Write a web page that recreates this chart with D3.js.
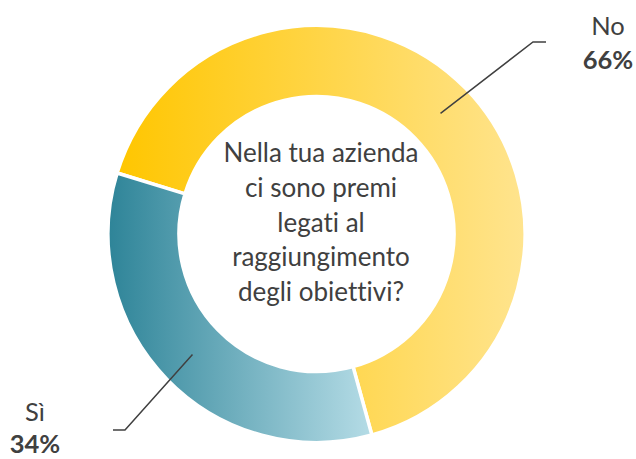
<!DOCTYPE html>
<html>
<head>
<meta charset="utf-8">
<script src="https://cdn.jsdelivr.net/npm/d3@7/dist/d3.min.js"></script>
<style>
  html, body { margin: 0; padding: 0; background: #fff; }
  svg { display: block; }
  text { font-variant-ligatures: none; font-feature-settings: "liga" 0, "clig" 0; }
</style>
</head>
<body>
<svg id="chart" width="636" height="459"></svg>
<script>
// Survey answers (percent)
const categories = ["No", "Sì"];
const values = [66, 34];
const valueLabels = ["66%", "34%"];
const question = ["Nella tua azienda", "ci sono premi", "legati al", "raggiungimento", "degli obiettivi?"];

// Gradient stops per slice: left colour → right colour
const gradients = [
  ["#FFC600", "#FFE48E"],
  ["#2E8498", "#B5DCE6"]
];

const W = 636, H = 459;
const cx = 316.5, cy = 234;
const rOuter = 208.5, rInner = 137.5;
const FONT = "Lato, 'Open Sans', sans-serif";
const TEXT = "#404040";

// Label placement: elbow point, tail end, text anchor and line gap
const labelLayout = [
  { knee: [533, 42], tail: [546, 42], text: [608, 35], gap: 34 },
  { knee: [125, 430], tail: [113, 430], text: [35, 421], gap: 32 }
];

const svg = d3.select("#chart");
const defs = svg.append("defs");

gradients.forEach((g, i) => {
  const lg = defs.append("linearGradient")
    .attr("id", "grad" + i)
    .attr("x1", 0).attr("y1", 0).attr("x2", 1).attr("y2", 0);
  lg.append("stop").attr("offset", "0%").attr("stop-color", g[0]);
  lg.append("stop").attr("offset", "100%").attr("stop-color", g[1]);
});

const startDeg = -73;
const pie = d3.pie()
  .sort(null)
  .value(d => d)
  .startAngle(startDeg * Math.PI / 180)
  .endAngle((startDeg + 360) * Math.PI / 180);

const arcs = pie(values);
const arc = d3.arc().innerRadius(rInner).outerRadius(rOuter);

const g = svg.append("g").attr("transform", `translate(${cx},${cy})`);

g.selectAll("path.slice")
  .data(arcs)
  .join("path")
  .attr("class", "slice")
  .attr("d", arc)
  .attr("fill", (d, i) => `url(#grad${i})`)
  .attr("stroke", "#fff")
  .attr("stroke-width", 3.5)
  .attr("stroke-linejoin", "miter");

// Leader lines from the middle of each ring segment
arcs.forEach((d, i) => {
  const c = arc.centroid(d);
  const L = labelLayout[i];
  svg.append("polyline")
    .attr("points", [[c[0] + cx, c[1] + cy], L.knee, L.tail].map(p => p.join(",")).join(" "))
    .attr("fill", "none")
    .attr("stroke", "#404040")
    .attr("stroke-width", 1.5);

  const t = svg.append("text")
    .attr("x", L.text[0])
    .attr("y", L.text[1])
    .attr("text-anchor", "middle")
    .attr("font-family", FONT)
    .attr("font-size", 25.5)
    .attr("fill", TEXT);
  t.append("tspan").text(categories[i]);
  t.append("tspan")
    .attr("x", L.text[0])
    .attr("dy", L.gap)
    .attr("font-weight", "bold")
    .text(valueLabels[i]);
});

// Question in the centre of the ring
const q = svg.append("text")
  .attr("text-anchor", "middle")
  .attr("font-family", FONT)
  .attr("font-size", 26)
  .attr("fill", TEXT);
question.forEach((line, i) => {
  q.append("tspan")
    .attr("x", 321)
    .attr("y", 162 + i * 34.8)
    .text(line);
});
</script>
</body>
</html>
